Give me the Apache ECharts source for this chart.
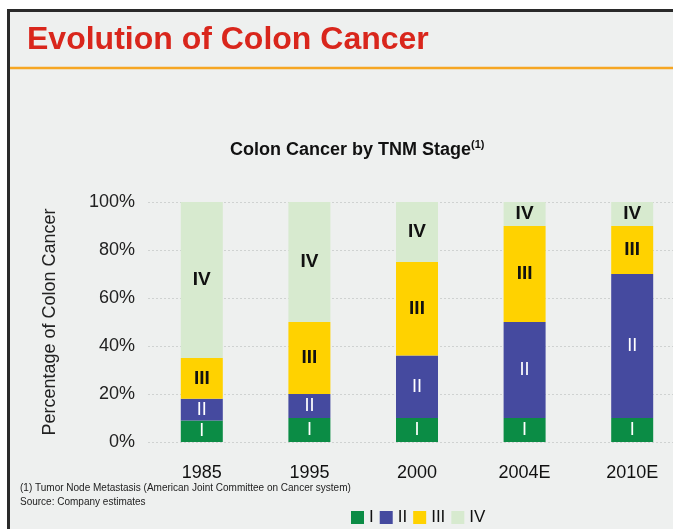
<!DOCTYPE html>
<html>
<head>
<meta charset="utf-8">
<script src="https://cdn.jsdelivr.net/npm/echarts@6/dist/echarts.min.js"></script>
<style>
  html, body { margin: 0; padding: 0; background: #fff; }
  #main { width: 673px; height: 529px; }
</style>
</head>
<body>
<div id="main"></div>
<script>
const categories = ["1985", "1995", "2000", "2004E", "2010E"];
const stageNames = ["I", "II", "III", "IV"];
const stageI = [9, 10, 10, 10, 10];
const stageII = [9, 10, 26, 40, 60];
const stageIII = [17, 30, 39, 40, 20];
const stageIV = [65, 50, 25, 10, 10];
const yTicks = [0, 20, 40, 60, 80, 100];

const FONT = "Liberation Sans, Arial, sans-serif";
const colors = ["#0b8c45", "#454a9f", "#ffd200", "#d7eacf"];

const chart = echarts.init(document.getElementById("main"));

// label inside each segment shows the stage name
const makeSeries = (name, data, i) => ({
  name: name,
  type: "bar",
  stack: "total",
  barWidth: 42,
  data: data,
  itemStyle: { color: colors[i] },
  label: {
    show: true,
    position: "inside",
    formatter: name,
    fontFamily: FONT,
    fontSize: i < 2 ? 18 : 19,
    fontWeight: i < 2 ? "normal" : "bold",
    color: i < 2 ? "#ffffff" : "#111111",
  },
});

const option = {
  backgroundColor: "#ffffff",
  animation: false,
  title: [
    {
      text: "{a|Colon Cancer by TNM Stage}{s|(1)}",
      left: 230,
      top: 139,
      padding: 0,
      textStyle: {
        rich: {
          a: { fontFamily: FONT, fontSize: 18, fontWeight: "bold", color: "#111", lineHeight: 22 },
          s: { fontFamily: FONT, fontSize: 11, color: "#111", verticalAlign: "top", lineHeight: 14 },
        },
      },
    },
  ],
  graphic: [
    {
      type: "rect",
      z: -10,
      shape: { x: 8.5, y: 10.5, width: 720, height: 600 },
      style: { fill: "#eef0ef", stroke: "#2a2a2a", lineWidth: 3 },
    },
    {
      type: "line",
      z: -5,
      shape: { x1: 10, y1: 68, x2: 673, y2: 68 },
      style: { stroke: "#f6a623", lineWidth: 2.5 },
    },
    {
      type: "text",
      x: 27,
      y: 40,
      style: {
        text: "Evolution of Colon Cancer",
        font: "bold 32px " + FONT,
        fill: "#d9261c",
        verticalAlign: "middle",
      },
    },
    {
      type: "text",
      x: 20,
      y: 488,
      style: {
        text: "(1) Tumor Node Metastasis (American Joint Committee on Cancer system)",
        font: "10px " + FONT,
        fill: "#222",
        verticalAlign: "middle",
      },
    },
    {
      type: "text",
      x: 20,
      y: 502,
      style: {
        text: "Source: Company estimates",
        font: "10px " + FONT,
        fill: "#222",
        verticalAlign: "middle",
      },
    },
  ],
  legend: {
    data: stageNames,
    left: 351,
    top: 509,
    padding: 0,
    itemWidth: 13,
    itemHeight: 13,
    itemGap: 6,
    icon: "rect",
    textStyle: { fontFamily: FONT, fontSize: 17, color: "#111" },
  },
  grid: { left: 148, top: 202, width: 538, height: 240, outerBoundsMode: "none" },
  xAxis: {
    type: "category",
    data: categories,
    axisLine: { show: false },
    axisTick: { show: false },
    axisLabel: { fontFamily: FONT, fontSize: 18, color: "#111", margin: 22 },
  },
  yAxis: {
    type: "value",
    min: 0,
    max: 100,
    interval: 20,
    name: "Percentage of Colon Cancer",
    nameLocation: "middle",
    nameGap: 89,
    nameTextStyle: { fontFamily: FONT, fontSize: 18, color: "#222" },
    axisLine: { show: false },
    axisTick: { show: false },
    axisLabel: {
      fontFamily: FONT,
      fontSize: 18,
      color: "#222",
      margin: 13,
      formatter: (v) => (yTicks.includes(v) ? v + "%" : ""),
    },
    splitLine: { show: true, lineStyle: { color: "#cfd2d1", type: [2, 2], width: 1 } },
  },
  series: [
    makeSeries("I", stageI, 0),
    makeSeries("II", stageII, 1),
    makeSeries("III", stageIII, 2),
    makeSeries("IV", stageIV, 3),
  ],
};

chart.setOption(option);
</script>
</body>
</html>
